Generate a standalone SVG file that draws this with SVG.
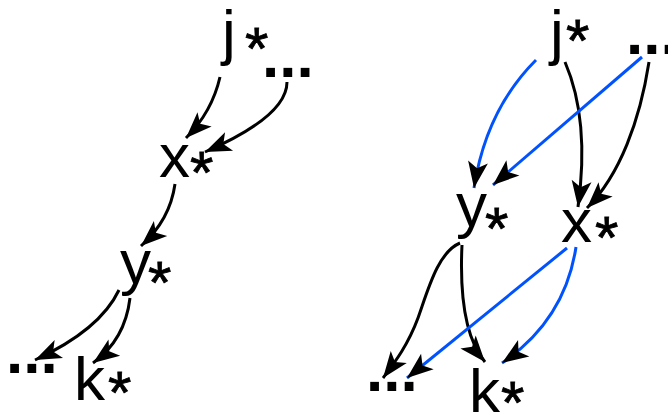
<svg xmlns="http://www.w3.org/2000/svg" width="668" height="415" viewBox="0 0 668 415">
<style>
text{font-family:"Liberation Sans",Arial,sans-serif;fill:#000}
.v{font-size:62px}
.d{font-size:62px;font-weight:bold}
.s{font-size:60px;stroke:#000;stroke-width:0.8}
.e{fill:none;stroke:#000;stroke-width:3;marker-end:url(#ak)}
.b{stroke:#0052ff}
</style>
<defs>
<marker id="ak" markerUnits="userSpaceOnUse" markerWidth="30" markerHeight="30" viewBox="-22 -10 24 20" refX="0" refY="0" orient="auto"><path d="M0,0 L-21,-8 L-16,0 L-21,8 Z" fill="#000"/></marker>
</defs>
<g id="connectors">
<path class="e" d="M220,77 Q212,112 186,138"/>
<path class="e" d="M287,82 C287,105 260,128 205,152"/>
<path class="e" d="M175,184 Q170,220 141,246"/>
<path class="e" d="M119,290 Q100,330 35,360"/>
<path class="e" d="M130,298 Q125,340 93,363"/>
<path class="e b" d="M536,60 Q486,110 474,188"/>
<path class="e" d="M565,62 Q590,120 578,207"/>
<path class="e b" d="M642,57 L493,185"/>
<path class="e" d="M649,62 C640,120 620,175 587,208"/>
<path class="e" d="M460,243 C438,252 428,290 418,318 C408,345 395,362 383,378"/>
<path class="e" d="M462,245 Q458,330 485,362"/>
<path class="e b" d="M567,248 L407,378"/>
<path class="e b" d="M576,247 Q565,320 502,363"/>
</g>
<g id="j1"><text class="v" x="222" y="53">j</text><text class="s" x="245" y="69">*</text></g>
<g id="dots1"><text class="d" x="262" y="77">...</text></g>
<g id="x1"><text class="v" x="159" y="177">x</text><text class="s" x="190" y="193">*</text></g>
<g id="y1"><text class="v" x="120" y="283">y</text><text class="s" x="148" y="303">*</text></g>
<g id="dots2"><text class="d" x="6" y="373">...</text></g>
<g id="k1"><text class="v" x="74" y="400">k</text><text class="s" x="108" y="413">*</text></g>
<g id="j2"><text class="v" x="550" y="53">j</text><text class="s" x="566" y="61">*</text></g>
<g id="dots3"><text class="d" x="626" y="54">...</text></g>
<g id="y2"><text class="v" x="456" y="226">y</text><text class="s" x="485" y="249">*</text></g>
<g id="x2"><text class="v" x="561" y="242">x</text><text class="s" x="595" y="258">*</text></g>
<g id="dots4"><text class="d" x="366" y="391">...</text></g>
<g id="k2"><text class="v" x="469" y="412">k</text><text class="s" x="501" y="423">*</text></g>
</svg>
